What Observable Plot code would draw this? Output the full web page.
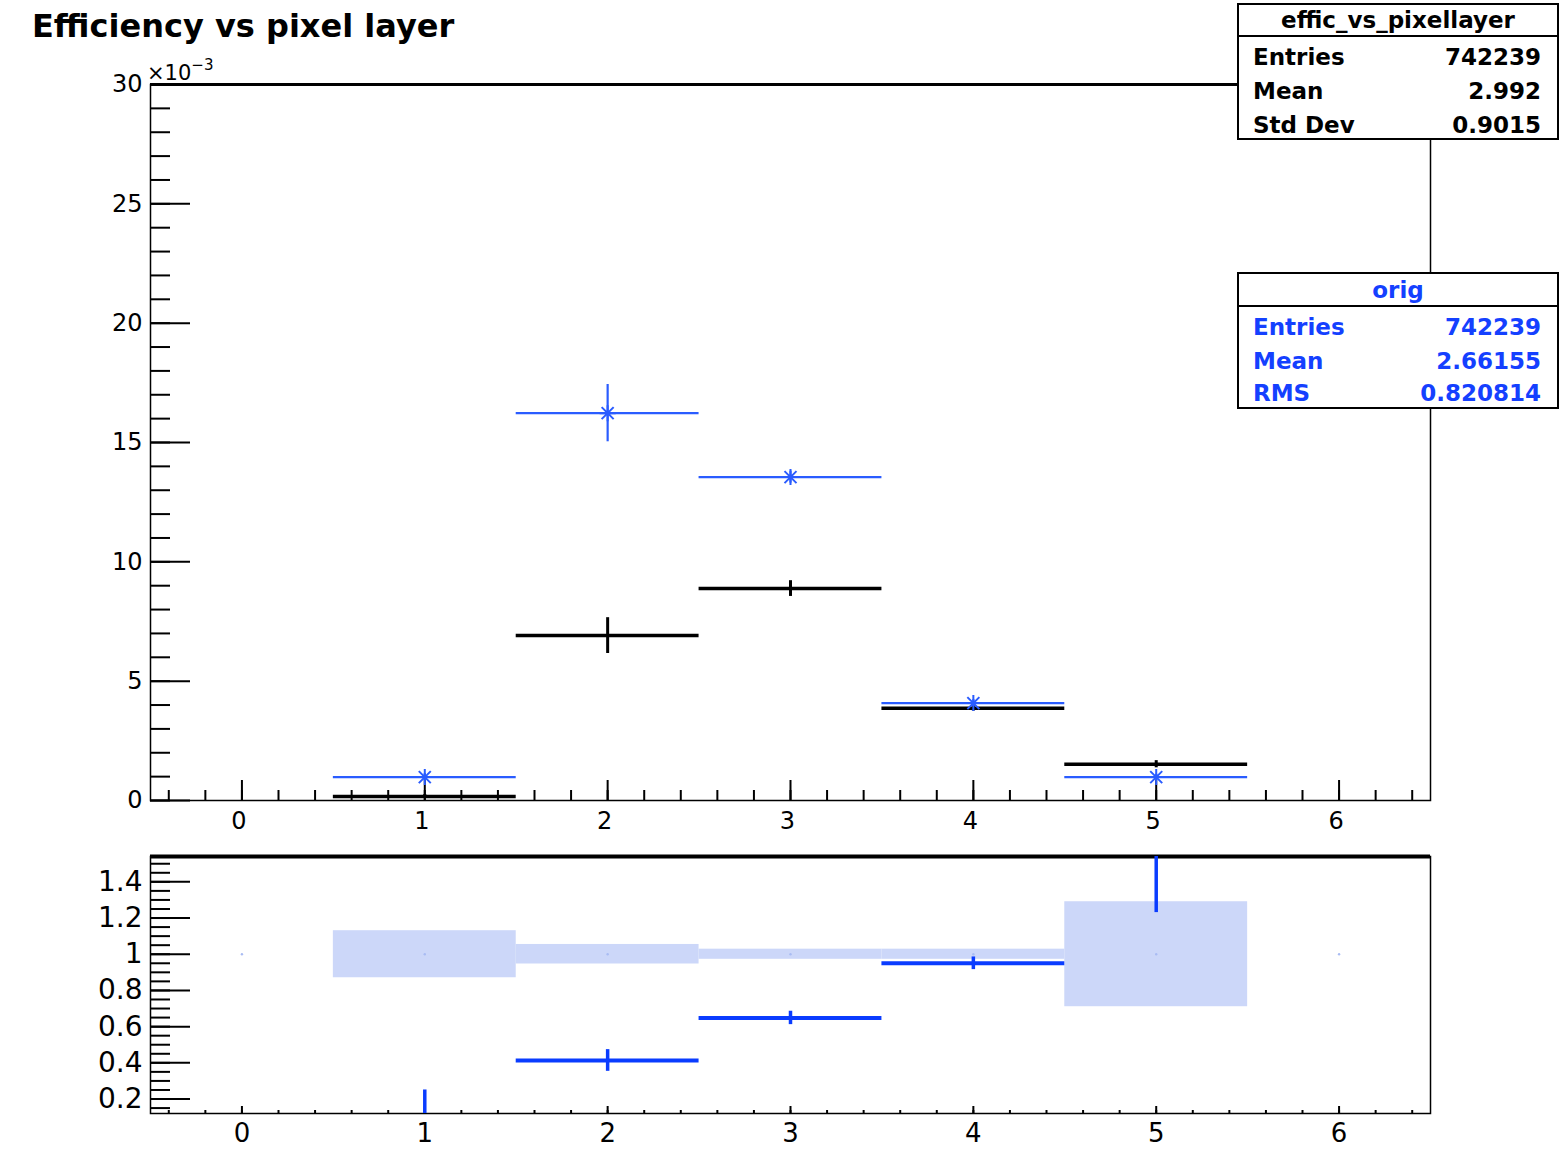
<!DOCTYPE html>
<html>
<head>
<meta charset="utf-8">
<script src="https://cdn.jsdelivr.net/npm/d3@7"></script>
<script src="https://cdn.jsdelivr.net/npm/@observablehq/plot@0.6"></script>
<style>
  html, body { margin: 0; padding: 0; background: #fff; }
  #wrap { position: relative; width: 1564px; height: 1160px; overflow: hidden; background: #fff; }
  #upper, #lower, #overlay { position: absolute; left: 0; }
  #upper { top: 0; }
  #lower { top: 840px; }
  #overlay { top: 0; pointer-events: none; }
  text { font-family: "DejaVu Sans", sans-serif; }
</style>
</head>
<body>
<div id="wrap">
  <div id="upper"></div>
  <div id="lower"></div>
  <svg id="overlay" width="1564" height="1160"></svg>
</div>
<script>
// ---------------- data ----------------
const bins = [1, 2, 3, 4, 5];
// effic_vs_pixellayer (black), in units of 10^-3
const efficValues = [0.17, 6.91, 8.88, 3.87, 1.52];
const efficErrors = [0.08, 0.75, 0.33, 0.12, 0.15];
// orig (blue), in units of 10^-3
const origValues = [0.98, 16.23, 13.55, 4.08, 0.98];
const origErrors = [0.15, 1.2, 0.25, 0.15, 0.12];
// ratio panel
const ratioValues = [0.08, 0.413, 0.648, 0.95, 1.58];
const ratioErrors = [0.17, 0.06, 0.037, 0.035, 0.35];
const bandErrors = [0.13, 0.054, 0.028, 0.028, 0.29];
const refDotBins = [0, 1, 2, 3, 4, 5, 6];

// axis ticks
const xMajorTicks = [0, 1, 2, 3, 4, 5, 6];
const xMinorTicks = d3.range(-0.4, 6.45, 0.2);
const yUpperMajor = [0, 5, 10, 15, 20, 25, 30];
const yUpperMinor = d3.range(0, 30.5, 1);
const yLowerMajor = [0.2, 0.4, 0.6, 0.8, 1, 1.2, 1.4];
const yLowerMinor = d3.range(0.15, 1.53, 0.05);

// stats boxes text
const stats1Title = "effic_vs_pixellayer";
const stats1Labels = ["Entries", "Mean", "Std Dev"];
const stats1Values = ["742239", "2.992", "0.9015"];
const stats2Title = "orig";
const stats2Labels = ["Entries", "Mean", "RMS"];
const stats2Values = ["742239", "2.66155", "0.820814"];

// ---------------- build tables ----------------
const effic = bins.map((b, i) => ({bin: b, v: efficValues[i], e: efficErrors[i]}));
const orig = bins.map((b, i) => ({bin: b, v: origValues[i], e: origErrors[i]}));
const ratio = bins.map((b, i) => ({bin: b, v: ratioValues[i], e: ratioErrors[i]}));
const band = bins.map((b, i) => ({bin: b, e: bandErrors[i]}));

const BLUE_LINE = "#2a5cff";
const BLUE_RATIO = "#0a3cff";
const BLUE_TEXT = "#1440ff";
const BAND = "#ccd7f9";

// ROOT-style "*" marker: vertical, horizontal and two diagonals
const rootStar = {
  draw(context, size) {
    const r = Math.sqrt(size / Math.PI);
    const d = r * 0.75;
    context.moveTo(0, -r); context.lineTo(0, r);
    context.moveTo(-r, 0); context.lineTo(r, 0);
    context.moveTo(-d, -d); context.lineTo(d, d);
    context.moveTo(-d, d); context.lineTo(d, -d);
  }
};

const W = 1564;
const mL = 150, mR = 134;
const frameW = W - mL - mR;

// ---------------- upper panel ----------------
const uH = 840, uTop = 84, uBottom = 40;
const uFrameH = uH - uTop - uBottom;
const upper = Plot.plot({
  width: W, height: uH,
  marginLeft: mL, marginRight: mR, marginTop: uTop, marginBottom: uBottom,
  x: {domain: [-0.5, 6.5]},
  y: {domain: [0, 30]},
  style: {fontFamily: "DejaVu Sans", background: "transparent", color: "black", overflow: "visible"},
  marks: [
    Plot.frame({stroke: "black", strokeWidth: 1.5}),
    Plot.ruleY([30], {stroke: "black", strokeWidth: 3}),
    Plot.tickX(xMinorTicks, {x: d => d, insetTop: uFrameH - 10, stroke: "black", strokeWidth: 2}),
    Plot.tickX(xMajorTicks, {x: d => d, insetTop: uFrameH - 20, stroke: "black", strokeWidth: 2}),
    Plot.tickY(yUpperMinor, {y: d => d, insetRight: frameW - 20, stroke: "black", strokeWidth: 2}),
    Plot.tickY(yUpperMajor, {y: d => d, insetRight: frameW - 40, stroke: "black", strokeWidth: 2}),
    Plot.axisX({ticks: xMajorTicks, tickSize: 0, tickPadding: 11, fontSize: 24, dx: -3, tickFormat: d => String(d), label: null}),
    Plot.axisY({ticks: yUpperMajor, tickSize: 0, tickPadding: 8, fontSize: 24, tickFormat: d => String(d), label: null}),
    // black histogram (effic_vs_pixellayer)
    Plot.ruleY(effic, {y: "v", x1: d => d.bin - 0.5, x2: d => d.bin + 0.5, stroke: "black", strokeWidth: 3.5}),
    Plot.ruleX(effic, {x: "bin", y1: d => Math.max(0, d.v - d.e), y2: d => d.v + d.e, stroke: "black", strokeWidth: 3}),
    // blue histogram (orig)
    Plot.ruleY(orig, {y: "v", x1: d => d.bin - 0.5, x2: d => d.bin + 0.5, stroke: BLUE_LINE, strokeWidth: 2.2}),
    Plot.ruleX(orig, {x: "bin", y1: d => d.v - d.e, y2: d => d.v + d.e, stroke: BLUE_LINE, strokeWidth: 2.2}),
    Plot.dot(orig, {x: "bin", y: "v", symbol: rootStar, r: 8, stroke: BLUE_LINE, strokeWidth: 2})
  ]
});
document.getElementById("upper").appendChild(upper);

// ---------------- lower (ratio) panel ----------------
const lH = 320, lTop = 16, lBottom = 47;
const lFrameH = lH - lTop - lBottom;
const lower = Plot.plot({
  width: W, height: lH,
  marginLeft: mL, marginRight: mR, marginTop: lTop, marginBottom: lBottom,
  x: {domain: [-0.5, 6.5]},
  y: {domain: [0.12, 1.54]},
  style: {fontFamily: "DejaVu Sans", background: "transparent", color: "black", overflow: "visible"},
  marks: [
    Plot.rect(band, {x1: d => d.bin - 0.5, x2: d => d.bin + 0.5, y1: d => 1 - d.e, y2: d => 1 + d.e, fill: BAND}),
    Plot.dot(refDotBins, {x: d => d, y: () => 1, r: 1.2, fill: "#a9bcf3", stroke: "none"}),
    Plot.frame({stroke: "black", strokeWidth: 1.5}),
    Plot.ruleY([1.54], {stroke: "black", strokeWidth: 4}),
    Plot.tickX(xMinorTicks, {x: d => d, insetTop: lFrameH - 3, stroke: "black", strokeWidth: 2}),
    Plot.tickX(xMajorTicks, {x: d => d, insetTop: lFrameH - 7, stroke: "black", strokeWidth: 2}),
    Plot.tickY(yLowerMinor, {y: d => d, insetRight: frameW - 20, stroke: "black", strokeWidth: 2}),
    Plot.tickY(yLowerMajor, {y: d => d, insetRight: frameW - 40, stroke: "black", strokeWidth: 2}),
    Plot.axisX({ticks: xMajorTicks, tickSize: 0, tickPadding: 10, fontSize: 26, tickFormat: d => String(d), label: null}),
    Plot.axisY({ticks: yLowerMajor, tickSize: 0, tickPadding: 8, fontSize: 28, tickFormat: d => String(d), label: null}),
    Plot.ruleY(ratio, {y: "v", x1: d => d.bin - 0.5, x2: d => d.bin + 0.5, stroke: BLUE_RATIO, strokeWidth: 4, clip: true}),
    Plot.ruleX(ratio, {x: "bin", y1: d => d.v - d.e, y2: d => d.v + d.e, stroke: BLUE_RATIO, strokeWidth: 3.5, clip: true})
  ]
});
document.getElementById("lower").appendChild(lower);

// ---------------- overlay: title, exponent, stats boxes ----------------
const ov = d3.select("#overlay");
ov.append("text").attr("x", 32).attr("y", 37)
  .attr("font-size", 32).attr("font-weight", "bold").attr("fill", "black")
  .text("Efficiency vs pixel layer");
const ex = ov.append("text").attr("x", 147).attr("y", 80).attr("font-size", 21).attr("fill", "black");
ex.append("tspan").text("×10");
ex.append("tspan").attr("dy", -10).attr("font-size", 15).text("−3");

function statsBox(y0, y1, divY, title, titleBase, labels, values, bases, color) {
  const g = ov.append("g");
  g.append("rect").attr("x", 1238).attr("y", y0).attr("width", 320).attr("height", y1 - y0)
    .attr("fill", "white").attr("stroke", "black").attr("stroke-width", 2);
  g.append("line").attr("x1", 1238).attr("x2", 1558).attr("y1", divY).attr("y2", divY)
    .attr("stroke", "black").attr("stroke-width", 2);
  g.append("text").attr("x", 1398).attr("y", titleBase).attr("text-anchor", "middle")
    .attr("font-size", 23).attr("font-weight", "bold").attr("fill", color).text(title);
  labels.forEach((lab, i) => {
    g.append("text").attr("x", 1253).attr("y", bases[i]).attr("font-size", 23)
      .attr("font-weight", "bold").attr("fill", color).text(lab);
    g.append("text").attr("x", 1541).attr("y", bases[i]).attr("text-anchor", "end").attr("font-size", 23)
      .attr("font-weight", "bold").attr("fill", color).text(values[i]);
  });
}
statsBox(4, 139, 36, stats1Title, 28, stats1Labels, stats1Values, [65, 99, 133], "black");
statsBox(273, 408, 306, stats2Title, 298, stats2Labels, stats2Values, [335, 369, 401], BLUE_TEXT);
</script>
</body>
</html>
